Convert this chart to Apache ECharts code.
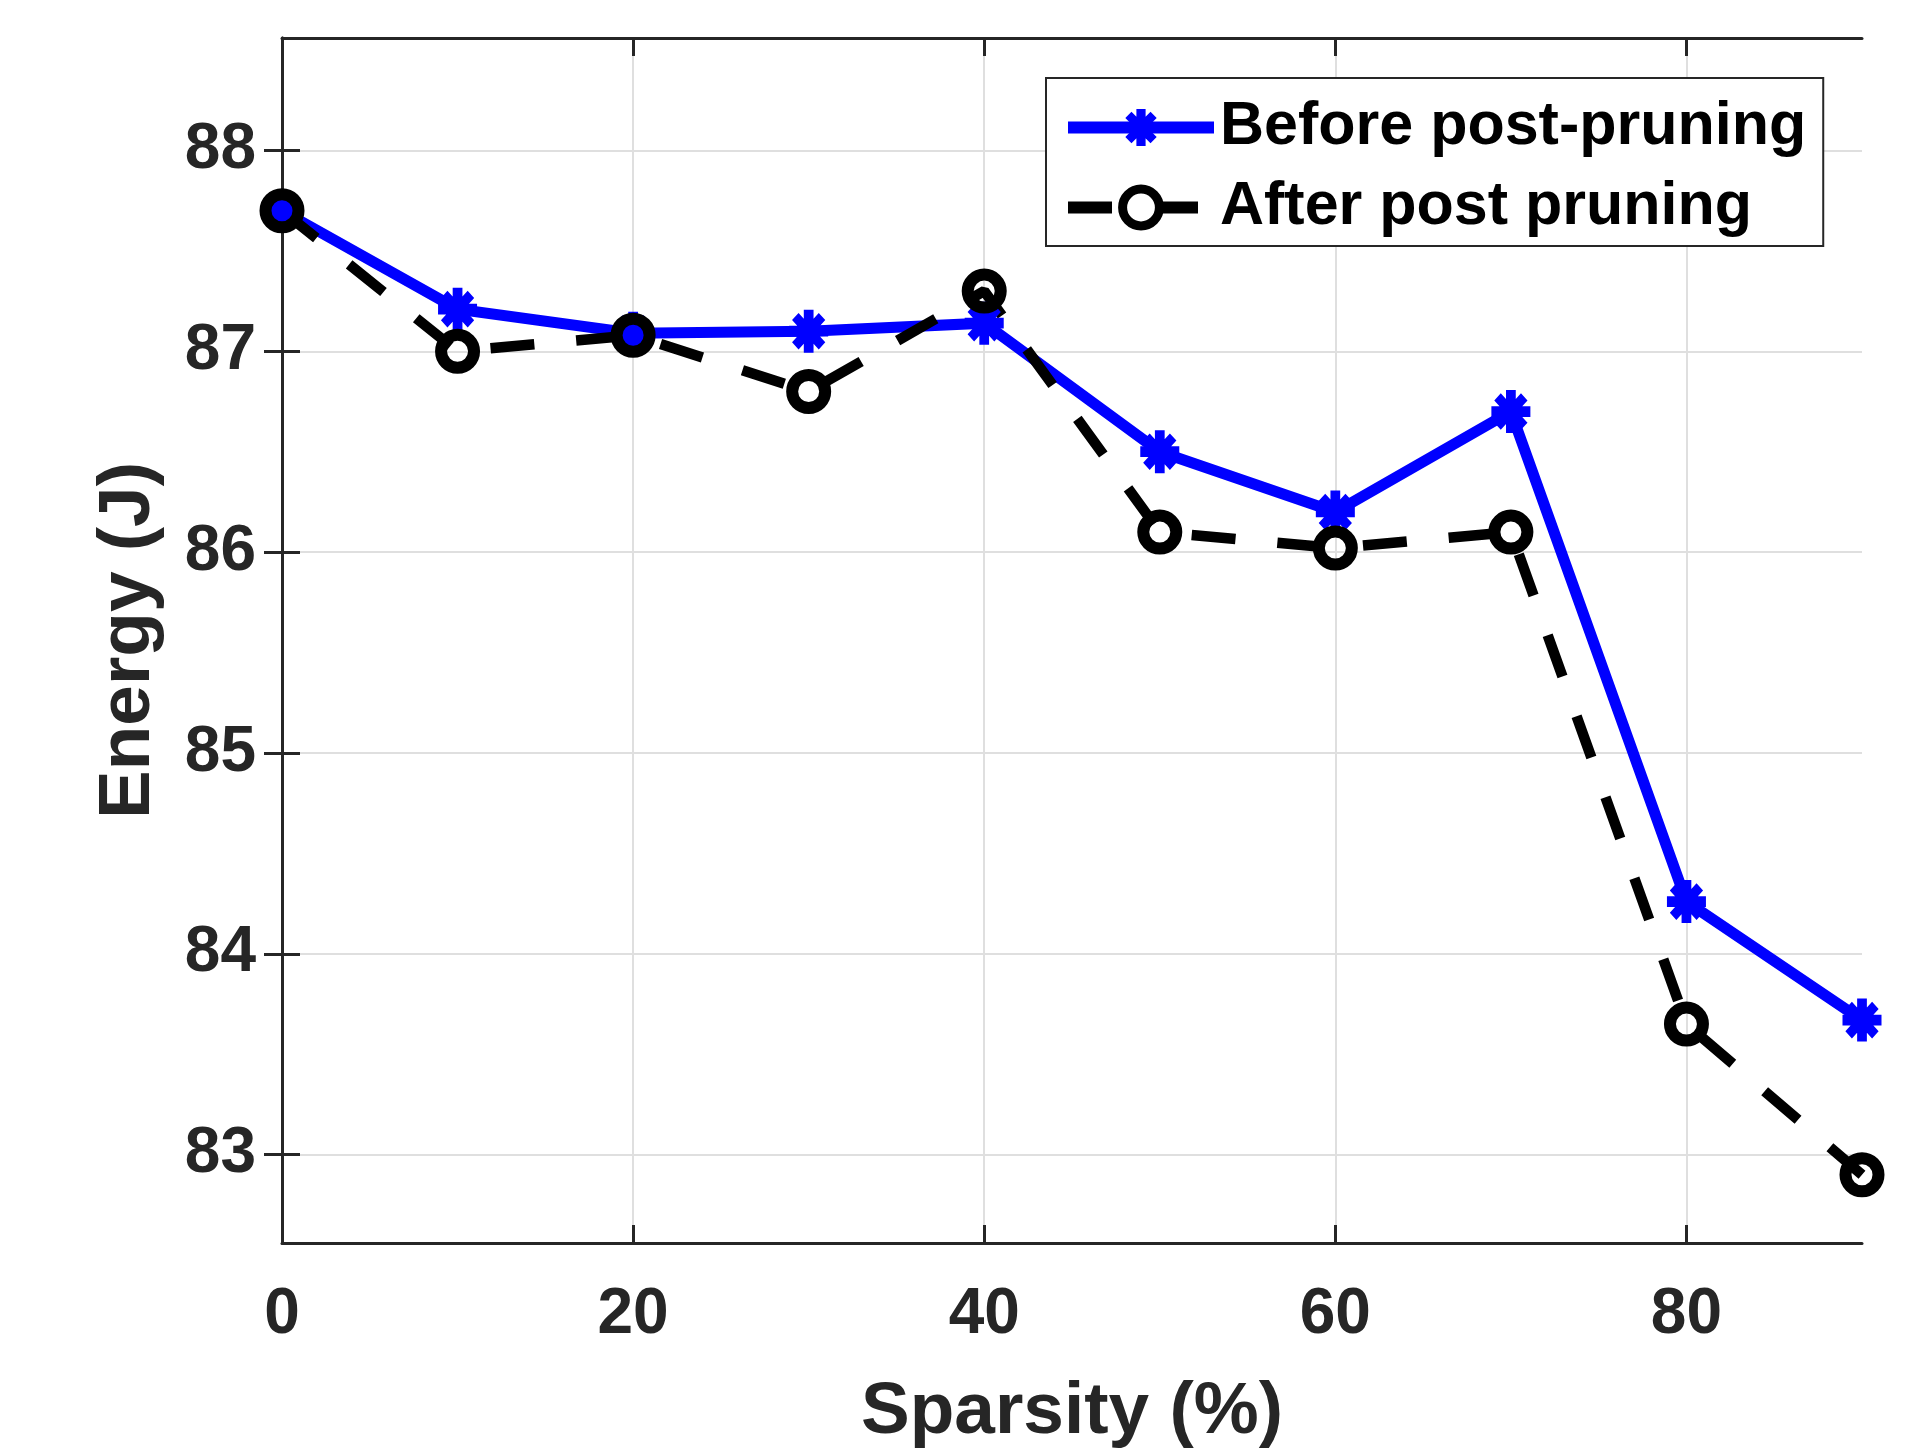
<!DOCTYPE html>
<html>
<head>
<meta charset="utf-8">
<script src="https://cdn.jsdelivr.net/npm/echarts@6/dist/echarts.min.js"></script>
<style>
html,body{margin:0;padding:0;background:#fff;}
#chart{width:1919px;height:1454px;}
</style>
</head>
<body>
<div id="chart"></div>
<script>
// ---- data ----
var sparsity = [0, 10, 20, 30, 40, 50, 60, 70, 80, 90];
var beforePost = [87.70, 87.21, 87.09, 87.10, 87.14, 86.50, 86.20, 86.70, 84.26, 83.67];
var afterPost = [87.70, 87.00, 87.08, 86.80, 87.30, 86.10, 86.02, 86.10, 83.65, 82.90];
var xTicks = [0, 20, 40, 60, 80];
var yTicks = [83, 84, 85, 86, 87, 88];
var seriesNames = ['Before post-pruning', 'After post pruning'];

var FONT = '"Liberation Sans", Arial, Helvetica, sans-serif';
var AX = '#262626';
var GRIDC = '#dfdfdf';

var STAR = 'path://M0 37.5 L100 37.5 L100 62.5 L0 62.5 Z M37.5 0 L62.5 0 L62.5 100 L37.5 100 Z ' +
  'M24.1 7.4 L92.6 75.9 L75.9 92.6 L7.4 24.1 Z M7.4 75.9 L75.9 7.4 L92.6 24.1 L24.1 92.6 Z';

function pairs(ys) { return sparsity.map(function (x, i) { return [x, ys[i]]; }); }

var chart = echarts.init(document.getElementById('chart'), null, {renderer: 'canvas'});

var axisLineStyle = {show: true, lineStyle: {color: AX, width: 3}};
var tickStyle = {show: true, inside: true, length: 18, lineStyle: {color: AX, width: 3}};

var option = {
  backgroundColor: '#fff',
  animation: false,
  grid: {left: 282, right: 57, top: 38, bottom: 211, containLabel: false, outerBoundsMode: 'none'},
  legend: {
    orient: 'vertical',
    left: 1046,
    top: 78,
    padding: [19, 17, 8, 16],
    itemGap: 19,
    itemWidth: 146,
    itemHeight: 46,
    borderColor: AX,
    borderWidth: 2,
    backgroundColor: '#fff',
    textStyle: {fontFamily: FONT, fontWeight: 'bold', fontSize: 61, color: '#000', padding: [0, 0, 0, 1]},
    data: [
      {name: seriesNames[0], lineStyle: {color: '#0000ff', width: 12, type: 'solid'},
        itemStyle: {color: '#0000ff', borderWidth: 0}},
      {name: seriesNames[1], lineStyle: {color: '#000', width: 12, type: [44, 42]},
        itemStyle: {color: '#fff', borderColor: '#000', borderWidth: 9}}
    ]
  },
  xAxis: [{
    type: 'value', min: 0, max: 90, position: 'bottom',
    name: 'Sparsity (%)', nameLocation: 'middle', nameGap: 133,
    nameTextStyle: {fontFamily: FONT, fontWeight: 'bold', fontSize: 73, color: AX},
    axisLine: axisLineStyle,
    axisTick: Object.assign({customValues: xTicks}, tickStyle),
    axisLabel: {customValues: xTicks, margin: 40, fontFamily: FONT, fontWeight: 'bold', fontSize: 64, color: AX},
    splitLine: {show: true, lineStyle: {color: GRIDC, width: 2}}
  }, {
    type: 'value', min: 0, max: 90, position: 'top',
    axisLine: axisLineStyle,
    axisTick: Object.assign({customValues: xTicks}, tickStyle),
    axisLabel: {show: false},
    splitLine: {show: false}
  }],
  yAxis: [{
    type: 'value', min: 82.56, max: 88.56, position: 'left',
    name: 'Energy (J)', nameLocation: 'middle', nameGap: 117, nameRotate: 90,
    nameTextStyle: {fontFamily: FONT, fontWeight: 'bold', fontSize: 73, color: AX},
    axisLine: axisLineStyle,
    axisTick: Object.assign({customValues: yTicks}, tickStyle),
    axisLabel: {customValues: yTicks, margin: 26, fontFamily: FONT, fontWeight: 'bold', fontSize: 64, color: AX},
    splitLine: {show: true, lineStyle: {color: GRIDC, width: 2}}
  }, {
    type: 'value', min: 82.56, max: 88.56, position: 'right',
    axisLine: axisLineStyle,
    axisTick: Object.assign({customValues: yTicks}, tickStyle),
    axisLabel: {show: false},
    splitLine: {show: false}
  }],
  series: [{
    name: seriesNames[0], type: 'line', xAxisIndex: 0, yAxisIndex: 0,
    data: pairs(beforePost),
    symbol: STAR, symbolSize: [39, 43], clip: false,
    lineStyle: {color: '#0000ff', width: 11, cap: 'butt', join: 'miter'},
    itemStyle: {color: '#0000ff', borderWidth: 0},
    emphasis: {disabled: true}
  }, {
    name: seriesNames[1], type: 'line', xAxisIndex: 0, yAxisIndex: 0,
    data: pairs(afterPost),
    symbol: 'circle', symbolSize: 33, clip: false,
    lineStyle: {color: '#000', width: 10.5, type: [44, 42], cap: 'butt'},
    itemStyle: {color: 'rgba(0,0,0,0)', borderColor: '#000', borderWidth: 12},
    emphasis: {disabled: true}
  }]
};
chart.setOption(option);
</script>
</body>
</html>
